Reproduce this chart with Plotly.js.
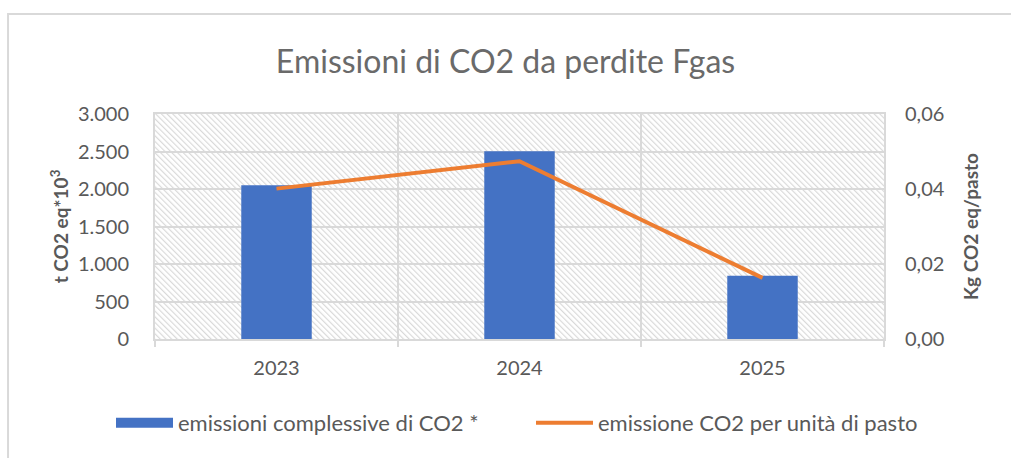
<!DOCTYPE html>
<html>
<head>
<meta charset="utf-8">
<script src="https://cdn.plot.ly/plotly-3.0.1.min.js"></script>
<style>
html,body{margin:0;padding:0;background:#fff;}
#chart{width:1011px;height:458px;}
</style>
</head>
<body>
<div id="chart"></div>
<script>
// ---- data ----
const years = ['2023', '2024', '2025'];
const totalEmissions = [2050, 2505, 845];          // t CO2 eq*10^3
const perMealEmissions = [0.0401, 0.0474, 0.0163]; // Kg CO2 eq/pasto
const barName = 'emissioni complessive di CO2 *';
const lineName = 'emissione CO2 per unità di pasto';
const leftTicks = [0, 500, 1000, 1500, 2000, 2500, 3000];
const rightTicks = [0, 0.02, 0.04, 0.06];

const FONT = 'Lato, "Open Sans", "DejaVu Sans", sans-serif';
const GREY = '#595959';
const GRID = '#d9d9d9';
const BLUE = '#4472C4';
const ORANGE = '#ED7D31';

const hatchSvg =
  "<svg xmlns='http://www.w3.org/2000/svg' width='729' height='225' preserveAspectRatio='none'>" +
  "<defs><pattern id='p' width='4' height='4' patternUnits='userSpaceOnUse' patternTransform='rotate(-45)'>" +
  "<rect x='0' y='0' width='1.2' height='4' fill='#d9d9d9'/></pattern></defs>" +
  "<rect width='729' height='225' fill='#ffffff'/><rect width='729' height='225' fill='url(#p)'/></svg>";
const hatchUri = 'data:image/svg+xml;charset=utf-8,' + encodeURIComponent(hatchSvg);

const traces = [
  {
    type: 'bar', x: years, y: totalEmissions, name: barName,
    marker: {color: BLUE}, width: 0.29, yaxis: 'y',
    showlegend: false, legendgroup: 'bars'
  },
  // legend entry for the bars (wide rectangle swatch like the original)
  {
    type: 'scatter', mode: 'lines', x: [null], y: [null], name: barName,
    line: {color: BLUE, width: 12}, yaxis: 'y', legendgroup: 'bars', showlegend: true
  },
  {
    type: 'scatter', mode: 'lines', x: years, y: perMealEmissions, name: lineName,
    line: {color: ORANGE, width: 4}, yaxis: 'y2'
  }
];

const layout = {
  width: 1011, height: 458,
  margin: {l: 155, r: 127, t: 114, b: 119},
  paper_bgcolor: '#ffffff',
  plot_bgcolor: 'rgba(0,0,0,0)',
  separators: ',.',
  font: {family: FONT, color: GREY, size: 20},
  title: {
    text: 'Emissioni di CO2 da perdite Fgas',
    font: {family: FONT, size: 32, color: '#6a6a6a', weight: 400},
    x: 0.5, xanchor: 'center', xref: 'container', y: 1 - 62/458, yanchor: 'middle', yref: 'container'
  },
  showlegend: true,
  legend: {
    orientation: 'h', xref: 'paper', yref: 'paper',
    x: (111 - 155) / 729, xanchor: 'left', y: (339 - 423) / 225, yanchor: 'middle',
    font: {family: FONT, size: 22, color: GREY},
    itemwidth: 57,
    entrywidth: 348, entrywidthmode: 'pixels',
    traceorder: 'normal', bgcolor: 'rgba(0,0,0,0)'
  },
  bargap: 0.71,
  xaxis: {
    type: 'category', tickson: 'boundaries',
    showgrid: true, gridcolor: GRID, gridwidth: 1.5,
    showline: true, linecolor: GRID, linewidth: 2, mirror: true,
    ticks: 'outside', ticklen: 6, tickcolor: GRID, tickwidth: 1.5,
    tickfont: {family: FONT, size: 20, color: GREY},
    ticklabelstandoff: 10, automargin: false
  },
  yaxis: {
    range: [0, 3000], tickvals: leftTicks, tickformat: ',d',
    showgrid: true, gridcolor: GRID, gridwidth: 2,
    showline: true, linecolor: GRID, linewidth: 2, mirror: true,
    zeroline: false, ticks: '',
    tickfont: {family: FONT, size: 20, color: GREY},
    ticklabelstandoff: 20, automargin: false,
    title: {text: 't CO2 eq*10<sup>3</sup>', font: {family: FONT, size: 19, color: GREY, weight: 'bold'}, standoff: 4}
  },
  yaxis2: {
    range: [0, 0.06], tickvals: rightTicks, tickformat: '.2f',
    overlaying: 'y', side: 'right',
    showgrid: false, zeroline: false, showline: false, ticks: '',
    tickfont: {family: FONT, size: 20, color: GREY},
    ticklabelstandoff: 20, automargin: false,
    title: {text: 'Kg CO2 eq/pasto', font: {family: FONT, size: 19, color: GREY, weight: 'bold'}, standoff: 20}
  },
  images: [{
    source: hatchUri, xref: 'paper', yref: 'paper', x: 0, y: 1, sizex: 1, sizey: 1,
    xanchor: 'left', yanchor: 'top', sizing: 'stretch', layer: 'below'
  }],
  shapes: [{
    type: 'rect', xref: 'paper', yref: 'paper',
    x0: -0.2016, x1: 1.3, y0: -0.7, y1: 1.444,
    line: {color: GRID, width: 2}, fillcolor: 'rgba(0,0,0,0)', layer: 'below'
  }]
};

Plotly.newPlot('chart', traces, layout, {staticPlot: true});
</script>
</body>
</html>
